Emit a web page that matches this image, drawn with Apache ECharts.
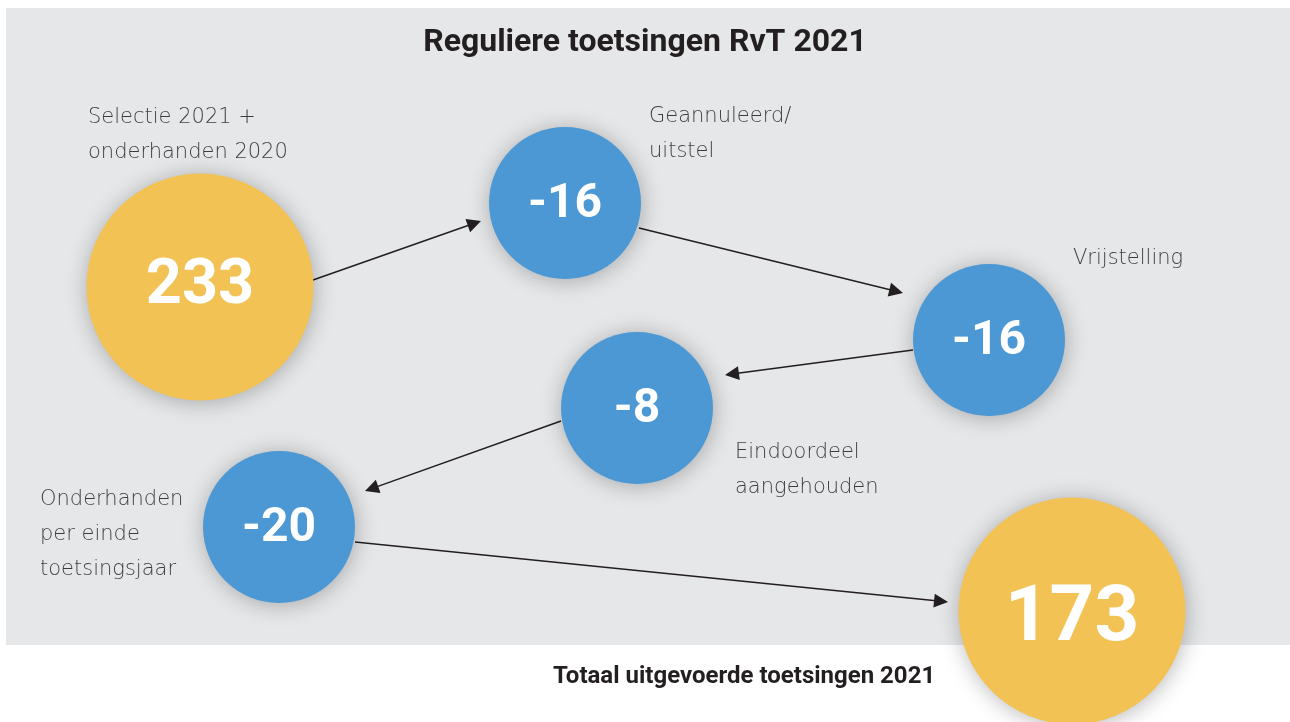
<!DOCTYPE html>
<html>
<head>
<meta charset="utf-8">
<script src="https://cdn.jsdelivr.net/npm/echarts@6/dist/echarts.min.js"></script>
<style>
html,body{margin:0;padding:0;background:#ffffff;}
#chart{width:1290px;height:722px;}
</style>
</head>
<body>
<div id="chart"></div>
<script>
// ---- data ----
const titleText = 'Reguliere toetsingen RvT 2021';
const totalText = 'Totaal uitgevoerde toetsingen 2021';
const captions = [
  ['Selectie 2021 +', 'onderhanden 2020'],
  ['Geannuleerd/', 'uitstel'],
  ['Vrijstelling'],
  ['Eindoordeel', 'aangehouden'],
  ['Onderhanden', 'per einde', 'toetsingsjaar']
];
const values = [233, -16, -16, -8, -20, 173];
const kinds = ['start', 'step', 'step', 'step', 'step', 'total'];
const links = [[0, 1], [1, 2], [2, 3], [3, 4], [4, 5]];

// ---- layout (diagram positions in axis units) ----
const nodeX = [200, 565, 989, 637, 279, 1072];
const nodeY = [287, 203, 340, 408, 527, 611];
const captionX = [88, 649, 1073, 735, 40];
const captionY = [135, 134, 259, 470, 535];
const linkFrom = [[313, 280], [639, 228], [913, 350], [561, 421], [355, 542]];
const linkTip = [[481, 221], [903, 293], [725, 375], [365, 491], [948, 602]];

// ---- styles ----
const kindStyle = {
  start: { color: '#F2C255', size: 227, font: 63, dy: 0 },
  step:  { color: '#4B98D4', size: 152, font: 48, dy: 2 },
  total: { color: '#F2C255', size: 227, font: 78, dy: 9 }
};
const arrowSize = 14;
const fontFam = 'Roboto, "Noto Sans", sans-serif';
const capFam = '"DejaVu Sans", "Open Sans", sans-serif';

const nodeData = values.map((v, i) => {
  const s = kindStyle[kinds[i]];
  return {
    value: [nodeX[i], nodeY[i], v],
    symbolSize: s.size,
    itemStyle: {
      color: s.color,
      opacity: 1,
      shadowBlur: 22,
      shadowColor: 'rgba(0,0,0,0.28)',
      shadowOffsetX: 1,
      shadowOffsetY: 2
    },
    label: { fontSize: s.font, offset: [0, s.dy] }
  };
});

const captionData = captions.map((c, i) => ({
  value: [captionX[i], captionY[i]],
  name: c.join('\n')
}));

const linkData = links.map((l, i) => {
  const [x0, y0] = linkFrom[i];
  const [x1, y1] = linkTip[i];
  const dx = x1 - x0, dy = y1 - y0;
  const len = Math.sqrt(dx * dx + dy * dy);
  const k = (len - arrowSize / 2) / len;
  return { coords: [[x0, y0], [x0 + dx * k, y0 + dy * k]] };
});

const chart = echarts.init(document.getElementById('chart'), null, { renderer: 'canvas' });
chart.setOption({
  animation: false,
  backgroundColor: '#ffffff',
  title: [
    {
      text: titleText, left: 'center', top: 27, padding: 0,
      textStyle: { fontFamily: fontFam, fontSize: 32, fontWeight: 'bold', color: '#231F20' }
    },
    {
      text: totalText, left: 553, top: 665, padding: 0,
      textStyle: { fontFamily: fontFam, fontSize: 24, fontWeight: 'bold', color: '#231F20' }
    }
  ],
  grid: {
    left: 6, right: 0, top: 8, bottom: 77,
    show: true, backgroundColor: '#E6E7E9', borderWidth: 0
  },
  xAxis: { type: 'value', min: 6, max: 1290, show: false },
  yAxis: { type: 'value', min: 8, max: 645, inverse: true, show: false },
  series: [
    {
      type: 'lines',
      coordinateSystem: 'cartesian2d',
      silent: true,
      clip: false,
      symbol: ['none', 'triangle'],
      symbolSize: arrowSize,
      lineStyle: { color: '#231F20', width: 1.5, opacity: 1, curveness: 0 },
      data: linkData,
      z: 2
    },
    {
      type: 'scatter',
      silent: true,
      clip: false,
      data: nodeData,
      itemStyle: { opacity: 1 },
      label: {
        show: true,
        position: 'inside',
        formatter: p => String(p.value[2]),
        color: '#ffffff',
        fontFamily: fontFam,
        fontWeight: 'bold'
      },
      z: 3
    },
    {
      type: 'scatter',
      silent: true,
      clip: false,
      symbolSize: 0,
      itemStyle: { color: 'transparent' },
      data: captionData,
      label: {
        show: true,
        position: [0, 0],
        align: 'left',
        verticalAlign: 'middle',
        formatter: p => p.name,
        fontFamily: capFam,
        fontWeight: 200,
        fontSize: 21,
        lineHeight: 35,
        color: '#111111'
      },
      z: 4
    }
  ]
});
</script>
</body>
</html>
